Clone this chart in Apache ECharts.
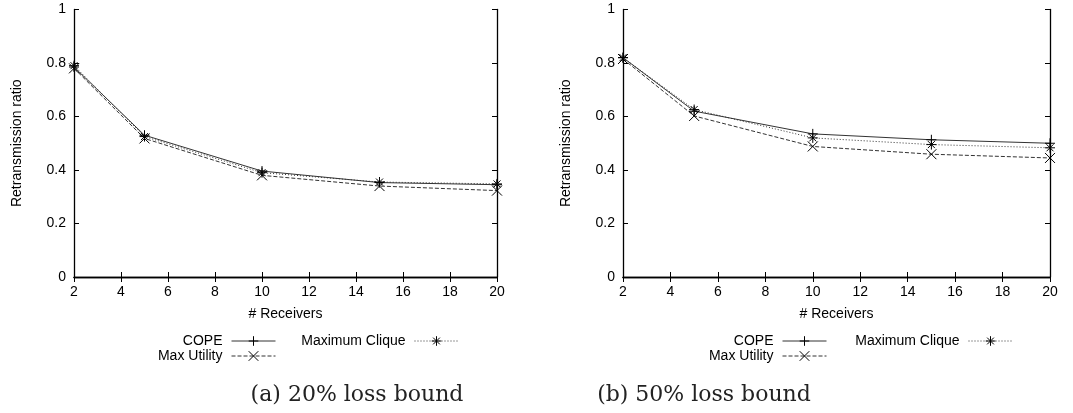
<!DOCTYPE html>
<html>
<head>
<meta charset="utf-8">
<script src="https://cdn.jsdelivr.net/npm/echarts@6/dist/echarts.min.js"></script>
<style>
html,body{margin:0;padding:0;background:#fff;}
#c{width:1073px;height:413px;}
</style>
</head>
<body>
<div id="c"></div>
<script>
// ---- data ----
const receivers = [2, 5, 10, 15, 20];
const seriesNames = ['COPE', 'Max Utility', 'Maximum Clique'];
// (a) 20% loss bound
const copeA   = [0.785, 0.530, 0.396, 0.353, 0.345];
const utilA   = [0.780, 0.518, 0.380, 0.340, 0.323];
const cliqueA = [0.790, 0.525, 0.390, 0.355, 0.348];
// (b) 50% loss bound
const copeB   = [0.820, 0.620, 0.535, 0.513, 0.500];
const utilB   = [0.815, 0.602, 0.488, 0.459, 0.445];
const cliqueB = [0.820, 0.626, 0.520, 0.495, 0.483];
const captions = ['(a) 20% loss bound', '(b) 50% loss bound'];
const xName = '# Receivers';
const yName = 'Retransmission ratio';

// ---- styles ----
const FONT = '"Liberation Sans", Arial, sans-serif';
const symPlus  = 'path://M0,5L10,5M5,0L5,10';
const symCross = 'path://M0,0L10,10M0,10L10,0';
const symStar  = 'path://M0,5L10,5M5,0L5,10M1.5,1.5L8.5,8.5M1.5,8.5L8.5,1.5';
const styles = [
  {symbol: symPlus,  dash: 'solid'},
  {symbol: symCross, dash: [4, 2]},
  {symbol: symStar,  dash: [1, 2]}
];

const grids = [
  {left: 74, right: 576, top: 9.5, bottom: 136},
  {left: 623, right: 23, top: 9.5, bottom: 136}
];

const xAxes = [], yAxes = [], series = [];
const frameLine = {show: true, lineStyle: {color: '#000', width: 1.3}};
const tick = {show: true, inside: true, length: 5, lineStyle: {color: '#000', width: 1}};
grids.forEach((g, gi) => {
  xAxes.push({
    type: 'value', gridIndex: gi, position: 'bottom', min: 2, max: 20, interval: 2,
    axisLine: frameLine, axisTick: tick, splitLine: {show: false},
    axisLabel: {color: '#000', fontFamily: FONT, fontSize: 14, margin: 8},
    name: xName, nameLocation: 'middle', nameGap: 30,
    nameTextStyle: {color: '#000', fontFamily: FONT, fontSize: 14}
  });
  xAxes.push({
    type: 'value', gridIndex: gi, position: 'top', min: 2, max: 20, interval: 2,
    axisLine: frameLine, axisTick: tick, splitLine: {show: false}, axisLabel: {show: false}
  });
  yAxes.push({
    type: 'value', gridIndex: gi, position: 'left', min: 0, max: 1, interval: 0.2,
    axisLine: frameLine, axisTick: tick, splitLine: {show: false},
    axisLabel: {color: '#000', fontFamily: FONT, fontSize: 14, margin: 8,
      formatter: v => (v === 0 || v === 1) ? String(v) : v.toFixed(1)},
    name: yName, nameLocation: 'middle', nameGap: 50, nameRotate: 90,
    nameTextStyle: {color: '#000', fontFamily: FONT, fontSize: 14}
  });
  yAxes.push({
    type: 'value', gridIndex: gi, position: 'right', min: 0, max: 1, interval: 0.2,
    axisLine: frameLine, axisTick: tick, splitLine: {show: false}, axisLabel: {show: false}
  });
});

const panelData = [[copeA, utilA, cliqueA], [copeB, utilB, cliqueB]];
panelData.forEach((arrs, gi) => {
  arrs.forEach((vals, si) => {
    series.push({
      type: 'line', name: seriesNames[si],
      xAxisIndex: gi * 2, yAxisIndex: gi * 2,
      data: receivers.map((x, i) => [x, vals[i]]),
      symbol: styles[si].symbol, symbolSize: 10, showSymbol: true,
      lineStyle: {color: '#333', width: 1, type: styles[si].dash},
      itemStyle: {color: '#000', borderColor: '#000', borderWidth: 1},
      clip: false, animation: false, z: 3 - si
    });
  });
});

function leg(name, right, top) {
  return {
    data: [name], right: right, top: top, align: 'right', padding: 0,
    itemWidth: 44, itemHeight: 12, selectedMode: false,
    itemStyle: {borderWidth: 1},
    lineStyle: {width: 1},
    textStyle: {color: '#000', fontFamily: FONT, fontSize: 14, padding: [0, 4, 0, 0]}
  };
}
const legends = [
  leg('COPE', 797, 334), leg('Max Utility', 797, 349), leg('Maximum Clique', 614, 334),
  leg('COPE', 246, 334), leg('Max Utility', 246, 349), leg('Maximum Clique', 60, 334)
];

const capFont = '22px "DejaVu Serif", "Liberation Serif", serif';
const chart = echarts.init(document.getElementById('c'), null, {renderer: 'canvas'});
chart.setOption({
  backgroundColor: '#fff',
  animation: false,
  grid: grids,
  xAxis: xAxes,
  yAxis: yAxes,
  legend: legends,
  series: series,
  graphic: [
    {type: 'text', x: 357, y: 395, style: {text: captions[0], fill: '#222',
      font: capFont, textAlign: 'center', textVerticalAlign: 'middle'}},
    {type: 'text', x: 704, y: 395, style: {text: captions[1], fill: '#222',
      font: capFont, textAlign: 'center', textVerticalAlign: 'middle'}}
  ]
});
</script>
</body>
</html>
